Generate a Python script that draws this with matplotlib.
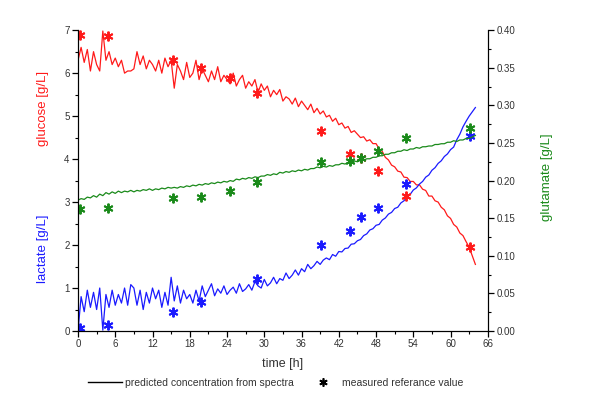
import numpy as np
import matplotlib
matplotlib.use('Agg')
import matplotlib.pyplot as plt
from matplotlib.lines import Line2D

plt.rcParams['font.family'] = ['Liberation Sans', 'DejaVu Sans']

# predicted concentrations from spectra, sampled every 0.5 h from 0 to 64 h
time_pred = np.arange(0, 64.01, 0.5)

glucose_pred = [
    6.30, 6.60, 6.25, 6.55, 6.05, 6.50, 6.20, 6.05, 6.98, 6.30,
    6.50, 6.20, 6.35, 6.15, 6.30, 6.00, 6.05, 6.05, 6.10, 6.50,
    6.20, 6.40, 6.10, 6.30, 6.20, 6.05, 6.30, 6.00, 6.35, 6.15,
    6.30, 5.65, 6.20, 6.05, 5.85, 6.25, 5.90, 6.00, 6.30, 5.85,
    6.10, 5.95, 5.80, 6.05, 5.85, 6.15, 5.80, 5.95, 5.85, 5.75,
    6.00, 5.70, 5.85, 5.95, 5.65, 5.80, 5.70, 5.85, 5.55, 5.75,
    5.60, 5.70, 5.45, 5.60, 5.50, 5.62, 5.35, 5.45, 5.40, 5.28,
    5.42, 5.22, 5.35, 5.25, 5.15, 5.28, 5.08, 5.18, 5.05, 5.12,
    4.98, 5.02, 4.88, 4.95, 4.80, 4.84, 4.72, 4.76, 4.62, 4.66,
    4.58, 4.50, 4.52, 4.42, 4.45, 4.36, 4.36, 4.24, 4.18, 4.04,
    3.98, 3.86, 3.82, 3.72, 3.70, 3.58, 3.57, 3.48, 3.48, 3.40,
    3.40, 3.30, 3.27, 3.14, 3.14, 3.03, 3.00, 2.88, 2.82, 2.68,
    2.62, 2.48, 2.42, 2.28, 2.22, 2.08, 1.95, 1.75, 1.55]

lactate_pred = [
    0.00, 0.80, 0.45, 0.95, 0.55, 0.90, 0.50, 1.00, 0.02, 0.85,
    0.55, 0.95, 0.60, 0.85, 0.65, 1.00, 0.60, 1.08, 1.00, 0.60,
    0.95, 0.50, 0.90, 0.65, 1.00, 0.75, 0.95, 0.55, 0.90, 0.60,
    1.25, 0.70, 1.05, 0.65, 0.95, 0.75, 0.85, 0.65, 0.95, 0.70,
    1.05, 0.80, 0.95, 1.10, 0.82, 0.98, 0.88, 1.05, 0.85, 0.95,
    1.02, 0.88, 1.10, 0.92, 0.98, 1.08, 0.95, 1.15, 1.05, 1.00,
    1.20, 1.05, 1.12, 1.25, 1.10, 1.22, 1.18, 1.35, 1.22, 1.30,
    1.42, 1.30, 1.45, 1.38, 1.55, 1.45, 1.52, 1.62, 1.55, 1.65,
    1.70, 1.66, 1.78, 1.74, 1.85, 1.84, 1.92, 1.93, 2.02, 2.03,
    2.10, 2.13, 2.22, 2.26, 2.35, 2.38, 2.46, 2.48, 2.58, 2.63,
    2.72, 2.76, 2.85, 2.88, 2.98, 3.03, 3.12, 3.18, 3.28, 3.33,
    3.42, 3.48, 3.58, 3.63, 3.74, 3.80, 3.90, 3.96, 4.06, 4.12,
    4.22, 4.28, 4.45, 4.58, 4.75, 4.88, 5.00, 5.10, 5.20]

glutamate_pred = [
    0.174, 0.176, 0.175, 0.178, 0.177, 0.180, 0.178, 0.182, 0.180, 0.184,
    0.182, 0.185, 0.183, 0.186, 0.184, 0.186, 0.185, 0.187, 0.185, 0.187,
    0.186, 0.188, 0.187, 0.189, 0.187, 0.189, 0.188, 0.190, 0.189, 0.191,
    0.190, 0.191, 0.190, 0.192, 0.191, 0.193, 0.192, 0.194, 0.193, 0.195,
    0.194, 0.196, 0.195, 0.197, 0.196, 0.198, 0.197, 0.199, 0.198, 0.200,
    0.199, 0.202, 0.201, 0.203, 0.202, 0.204, 0.203, 0.205, 0.204, 0.206,
    0.206, 0.208, 0.207, 0.209, 0.208, 0.211, 0.210, 0.212, 0.211, 0.213,
    0.212, 0.214, 0.213, 0.215, 0.214, 0.216, 0.216, 0.218, 0.217, 0.219,
    0.218, 0.220, 0.219, 0.221, 0.221, 0.223, 0.222, 0.224, 0.224, 0.226,
    0.225, 0.227, 0.227, 0.229, 0.229, 0.231, 0.231, 0.233, 0.233, 0.235,
    0.235, 0.237, 0.237, 0.239, 0.239, 0.241, 0.240, 0.242, 0.242, 0.244,
    0.243, 0.245, 0.245, 0.246, 0.246, 0.248, 0.248, 0.249, 0.249, 0.251,
    0.251, 0.253, 0.252, 0.254, 0.254, 0.256, 0.256, 0.258, 0.260]

# measured reference values
time_ref = [0.3, 4.8, 15.3, 19.8, 24.4, 28.8, 39.2, 43.8, 45.6, 48.3, 52.8, 63.2]
glucose_ref = [6.88, 6.86, 6.30, 6.12, 5.89, 5.54, 4.65, 4.11, 4.02, 3.72, 3.14, 1.95]
lactate_ref = [0.06, 0.14, 0.45, 0.68, None, 1.21, 2.00, 2.33, 2.66, 2.87, 3.41, 4.54]
glutamate_ref = [0.162, 0.163, 0.177, 0.178, 0.186, 0.198, 0.225, 0.226, 0.230, 0.239, 0.257, 0.270]

red = '#ff1a1a'
blue = '#1a1aff'
green = '#1a8a1a'
txt = '#333333'
star = (6, 2, 0)

fig = plt.figure(figsize=(6, 4.19), dpi=100)
ax = fig.add_axes([0.13, 0.21, 0.683, 0.718])
ax2 = ax.twinx()

ax.plot(time_pred, glucose_pred, color=red, lw=0.9)
ax.plot(time_pred, lactate_pred, color=blue, lw=0.9)
ax2.plot(time_pred, glutamate_pred, color=green, lw=0.9)

# no lactate sample was taken at 24 h
lt = [t for t, v in zip(time_ref, lactate_ref) if v is not None]
lv = [v for v in lactate_ref if v is not None]
ax.plot(time_ref, glucose_ref, ls='none', marker=star, ms=7, mew=1.4, color=red)
ax.plot(lt, lv, ls='none', marker=star, ms=7, mew=1.4, color=blue)
ax2.plot(time_ref, glutamate_ref, ls='none', marker=star, ms=7, mew=1.4, color=green)

ax.set_xlim(0, 66)
ax.set_ylim(0, 7)
ax2.set_ylim(0, 0.40)
ax.set_xticks(np.arange(0, 67, 6))
ax.set_xticks(np.arange(0, 67, 3), minor=True)
ax.set_yticks(np.arange(0, 8, 1))
ax.set_yticks(np.arange(0, 7.01, 0.5), minor=True)
ax2.set_yticks(np.arange(0, 0.401, 0.05))
ax2.set_yticks(np.arange(0, 0.401, 0.025), minor=True)
ax2.set_yticklabels(['%.2f' % v for v in np.arange(0, 0.401, 0.05)])

for a in (ax, ax2):
    a.spines['top'].set_visible(False)
    a.tick_params(which='major', direction='out', length=4, width=0.9, labelsize=7, labelcolor=txt, pad=2)
    a.tick_params(which='minor', direction='out', length=2, width=0.8)

ax.text(-0.085, 0.74, 'glucose [g/L]', color=red, rotation=90, fontsize=9.5,
        ha='center', va='center', transform=ax.transAxes)
ax.text(-0.085, 0.275, 'lactate [g/L]', color=blue, rotation=90, fontsize=9.5,
        ha='center', va='center', transform=ax.transAxes)
ax2.text(1.144, 0.51, 'glutamate [g/L]', color=green, rotation=90, fontsize=9.5,
         ha='center', va='center', transform=ax.transAxes)
ax.set_xlabel('time [h]', fontsize=9, color=txt, labelpad=6)

handles = [Line2D([], [], color='black', lw=1),
           Line2D([], [], ls='none', marker=star, ms=6, mew=1.2, color='black')]
fig.legend(handles, ['predicted concentration from spectra', 'measured referance value'],
           loc='center', bbox_to_anchor=(0.46, 0.086), ncol=2, frameon=False,
           fontsize=7.5, labelcolor=txt, handlelength=3.2, handletextpad=0.3,
           columnspacing=1.2)

fig.savefig('out.png', dpi=100)
